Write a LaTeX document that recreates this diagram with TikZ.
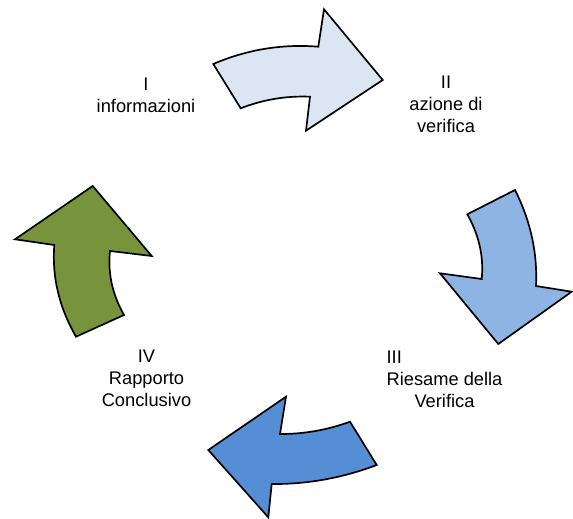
\documentclass[tikz,border=0pt]{standalone}
\usepackage{fontspec}
\setmainfont{Liberation Sans}
\usepackage{tikz}
\usetikzlibrary{positioning}
\definecolor{paleblue}{HTML}{DCE6F2}
\definecolor{midblue}{HTML}{8DB4E2}
\definecolor{deepblue}{HTML}{558ED5}
\definecolor{olive}{HTML}{77933C}
\begin{document}
\begin{tikzpicture}[x=0.025cm,y=-0.025cm,
  blk/.style={draw=black,line width=1.2pt,line join=miter},
  lbl/.style={anchor=north,inner sep=0pt,align=center,font=\fontsize{13pt}{15.6pt}\selectfont}]
\useasboundingbox (0,0) rectangle (573,519);

% arrows of the cycle
\draw[blk,fill=paleblue] (213.3,64) -- (240.7,108.3) .. controls (263.2,99.5) and (286.3,95.7) .. (310,96.7)
  -- (306,130.7) -- (382.7,80) -- (324,9.3) -- (318.3,46.7) .. controls (282.1,43.8) and (247.1,49.5) .. (213.3,64) -- cycle;
\draw[blk,fill=midblue] (467.3,214.3) -- (515,190) .. controls (530.6,221) and (537.6,253) .. (536,286)
  -- (571.7,291.7) -- (498.3,344) -- (440,273.3) -- (481.7,279) .. controls (483.9,256.7) and (479.1,235.2) .. (467.3,214.3) -- cycle;
\draw[blk,fill=deepblue] (350,421.7) -- (376.7,465) .. controls (342.6,477.9) and (307.6,484.3) .. (271.7,484)
  -- (268.3,517.3) -- (208.3,450) -- (286,396.7) -- (280,434) .. controls (303.9,434.1) and (327.2,430) .. (350,421.7) -- cycle;
\draw[blk,fill=olive] (76,336.7) -- (124,315) .. controls (112.3,294.4) and (107.7,273.1) .. (110,251)
  -- (151.7,256) -- (92.7,186) -- (15,239.3) -- (54.3,245) .. controls (51.8,276.7) and (59.1,307.2) .. (76,336.7) -- cycle;

% labels
\node[lbl] (info) at (146,77.5) {I\\informazioni};
\node[lbl] (azione) at (446,76) {II\\azione di\\verifica};
\node[lbl] (riesame) at (444.5,350) {\rlap{III}\phantom{Riesame della}\\Riesame della\\Verifica};
\node[lbl] (rapporto) at (146.5,350) {IV\\Rapporto\\Conclusivo};
\end{tikzpicture}
\end{document}
